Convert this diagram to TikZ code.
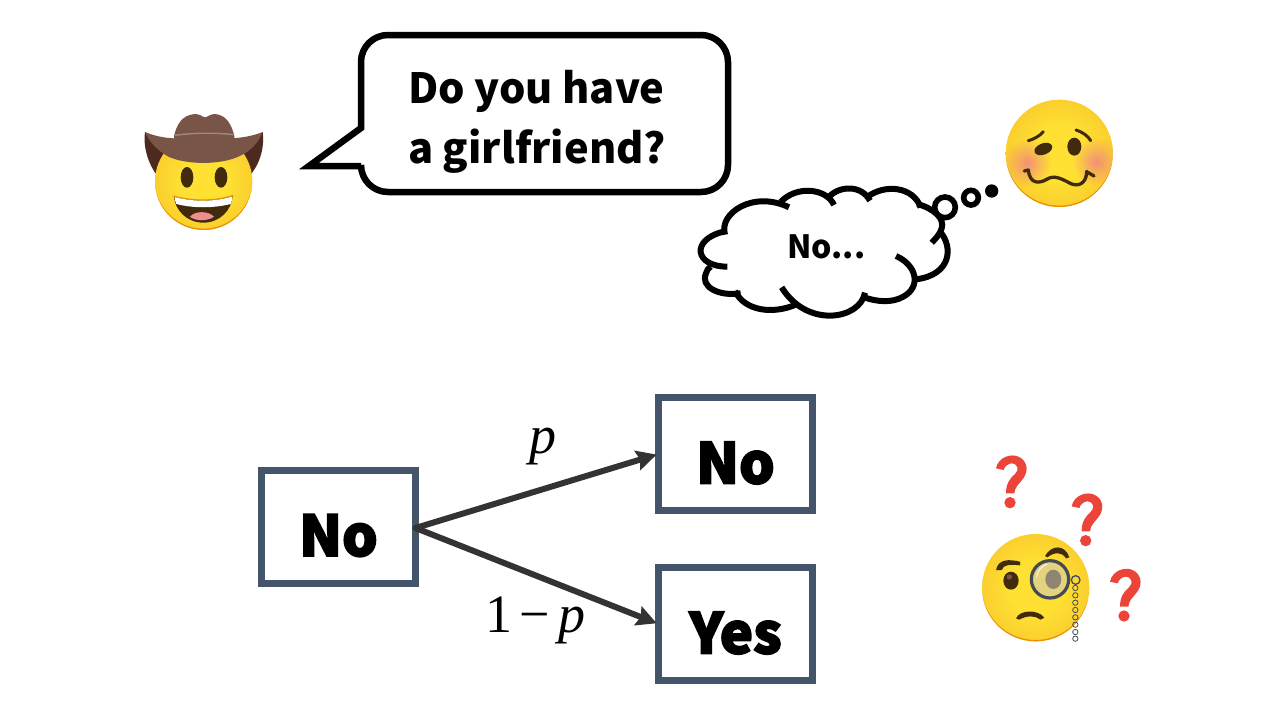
\documentclass[tikz,border=0pt]{standalone}
\usepackage{fontspec}
\setmainfont{Liberation Serif}
\newfontfamily\cjk{Noto Sans CJK SC}
\newfontfamily\cjkblack{Noto Sans CJK SC}[BoldFeatures={FakeBold=3}]
\usetikzlibrary{arrows.meta,fadings}
\tikzfading[name=softcheek,inner color=transparent!25,outer color=transparent!100]
\definecolor{slate}{HTML}{44546A}
\definecolor{arrowgray}{HTML}{333333}
\definecolor{faceDark}{HTML}{422B0D}
\definecolor{faceRim}{HTML}{EB8F00}
\definecolor{faceMid}{HTML}{F8C22A}
\definecolor{faceEdge}{HTML}{F1A71F}
\definecolor{faceCore}{HTML}{FEE133}
\definecolor{hatBrown}{HTML}{795548}
\definecolor{hatDark}{HTML}{4E2A1E}
\definecolor{hatBand}{HTML}{A1887F}
\definecolor{qred}{HTML}{EC4438}
\definecolor{tonguePink}{HTML}{EE8E8E}
\definecolor{lensFill}{HTML}{E3D27E}
\definecolor{lensEye}{HTML}{8F8672}
\definecolor{lensRim}{HTML}{454B55}
\definecolor{cheekPink}{HTML}{F0788C}
\pgfdeclareradialshading{facegrad}{\pgfpoint{0bp}{0bp}}{%
  color(0bp)=(faceCore); color(12bp)=(faceCore); color(34bp)=(faceMid); color(50bp)=(faceEdge)}
\newcommand{\rimcrescent}[3]{%
  \begin{scope}
    \clip (#1,#2) circle[radius=#3];
    \fill[faceRim,even odd rule] (#1,#2) circle[radius=#3+1] (#1,#2-5) circle[radius=#3+1];
  \end{scope}}
\tikzset{
  statebox/.style={draw=slate,line width=7pt,fill=white,inner sep=0pt,outer sep=0pt,
    minimum width=154pt,minimum height=113pt,text depth=0pt,
    font=\cjkblack\bfseries\fontsize{56}{56}\selectfont},
  flow/.style={draw=arrowgray,line width=6pt,line cap=round,shorten >=2pt,
    -{Stealth[length=20pt,width=20pt,inset=3pt]}},
  edgetext/.style={inner sep=0pt,anchor=base,font=\fontsize{54}{54}\selectfont},
  cloudline/.style={line width=6pt,line cap=butt},
  zoomed/.style={x=0.33333pt,y=-0.33333pt},
  facefill/.style={shading=facegrad},
}
\begin{document}
\begin{tikzpicture}[x=1pt,y=-1pt]
\path[use as bounding box,fill=white] (0,0) rectangle (1280,720);

% speech bubble
\draw[line width=6.5pt,fill=white,line join=miter,miter limit=10]
  (361,128) [rounded corners=27pt] -- (361,35) -- (728,35) -- (728,192) -- (361,192)
  [sharp corners] -- (361,166) -- (309,166) -- cycle;
\node[inner sep=0pt,anchor=base west,align=left,font=\cjk\bfseries\fontsize{41.6}{60}\selectfont]
  (question) at (408,163) {Do you have\\a girlfriend?};

% cowboy
\begin{scope}[shift={(130,100)},zoomed]
  \fill[hatDark] (45,96) .. controls (38,150) and (60,200) .. (85,232) -- (130,150) -- cycle;
  \fill[hatDark] (398,96) .. controls (405,150) and (385,200) .. (355,232) -- (310,150) -- cycle;
  \shade[facefill] (221,244) circle[radius=146];
  \rimcrescent{221}{244}{146}
  \fill[hatBrown] (132,125) -- (132,108) .. controls (140,75) and (155,45) .. (195,42)
    .. controls (212,42) and (218,52) .. (225,52)
    .. controls (232,52) and (240,42) .. (255,42)
    .. controls (290,45) and (305,75) .. (313,108) -- (313,125) -- cycle;
  \fill[hatBrown] (45,96) .. controls (90,115) and (130,118) .. (220,115)
    .. controls (300,118) and (350,115) .. (398,96)
    .. controls (385,130) and (360,155) .. (325,170)
    .. controls (270,195) and (170,195) .. (115,170)
    .. controls (80,150) and (58,125) .. (45,96) -- cycle;
  \draw[hatBand,line width=1.4pt] (135,106) .. controls (190,98) and (260,98) .. (310,104);
  \fill[faceDark] (171,232) ellipse[x radius=19,y radius=31];
  \fill[faceDark] (273,232) ellipse[x radius=19,y radius=31];
  \fill[faceDark] (132,290) .. controls (190,306) and (255,306) .. (308,288)
    .. controls (305,330) and (270,368) .. (220,368)
    .. controls (170,368) and (135,330) .. (132,290) -- cycle;
  \fill[white] (134,291) .. controls (190,306) and (255,306) .. (307,289)
    .. controls (307,298) and (305,306) .. (302,312)
    .. controls (250,325) and (190,325) .. (139,312)
    .. controls (136,305) and (134,298) .. (134,291) -- cycle;
  \draw[faceRim,line width=1pt] (130,288) .. controls (190,304) and (255,304) .. (310,286);
  \fill[tonguePink] (180,350) .. controls (195,332) and (235,332) .. (252,350)
    .. controls (235,364) and (195,364) .. (180,350) -- cycle;
\end{scope}

% thought cloud
\begin{scope}[shift={(690,90)},zoomed]
  \fill[white] (100,430) .. controls (95,360) and (190,310) .. (290,345)
    .. controls (340,285) and (410,290) .. (430,325)
    .. controls (470,280) and (520,290) .. (538,320)
    .. controls (600,270) and (680,300) .. (690,350)
    .. controls (740,360) and (770,410) .. (755,430)
    .. controls (790,480) and (770,560) .. (680,568)
    .. controls (680,620) and (600,640) .. (525,620)
    .. controls (480,690) and (370,710) .. (310,645)
    .. controls (240,680) and (160,660) .. (140,612)
    .. controls (50,620) and (20,560) .. (60,530)
    .. controls (10,510) and (20,430) .. (100,425) -- cycle;
  \draw[cloudline] (105,434) .. controls (85,370) and (190,300) .. (297,352);
  \draw[cloudline] (272,336) .. controls (320,285) and (410,295) .. (432,345);
  \draw[cloudline] (415,322) .. controls (450,285) and (515,285) .. (540,332);
  \draw[cloudline] (530,322) .. controls (585,280) and (670,290) .. (692,352);
  \draw[cloudline] (682,342) .. controls (730,355) and (765,385) .. (755,415) .. controls (750,432) and (738,445) .. (725,458);
  \draw[cloudline] (750,425) .. controls (790,470) and (785,555) .. (678,568);
  \draw[cloudline] (618,498) .. controls (680,525) and (695,590) .. (640,620) .. controls (605,640) and (560,635) .. (522,622);
  \draw[cloudline] (525,608) .. controls (510,690) and (350,715) .. (275,592);
  \draw[cloudline] (315,645) .. controls (250,672) and (165,665) .. (135,603);
  \draw[cloudline] (152,610) .. controls (85,620) and (30,590) .. (48,550) .. controls (50,540) and (55,535) .. (62,530);
  \draw[cloudline] (112,530) .. controls (15,530) and (0,450) .. (100,425);
  \draw[line width=5.6pt,fill=white] (765,352) circle[radius=31];
  \draw[line width=5.6pt,fill=white] (843,323) circle[radius=22];
  \fill[black] (905,303) circle[radius=20];
\end{scope}
\node[inner sep=0pt,anchor=base west,font=\cjk\bfseries\fontsize{32}{32}\selectfont]
  (answer) at (787,258) {No...};

% woozy
\begin{scope}[shift={(690,90)},zoomed]
  \shade[facefill] (1108,190) circle[radius=161];
  \rimcrescent{1108}{190}{161}
  \begin{scope}
    \clip (1108,190) circle[radius=161];
    \fill[cheekPink,path fading=softcheek] (1012,218) circle[radius=72];
    \fill[cheekPink,path fading=softcheek] (1218,215) circle[radius=72];
  \end{scope}
  \fill[faceDark,rotate around={20:(1060,177)}] (1060,177) ellipse[x radius=28,y radius=17];
  \fill[faceDark] (1153,170) ellipse[x radius=21,y radius=27];
  \draw[faceDark,line width=3pt,line cap=round] (1015,152) .. controls (1030,148) and (1050,138) .. (1060,125);
  \draw[faceDark,line width=3pt,line cap=round] (1158,120) .. controls (1175,125) and (1195,138) .. (1202,152);
  \draw[faceDark,line width=3.3pt,line cap=round,line join=round] (1003,243) -- (1015,240)
    .. controls (1020,285) and (1050,280) .. (1070,268)
    .. controls (1095,252) and (1120,270) .. (1145,282)
    .. controls (1175,292) and (1190,270) .. (1190,245) -- (1212,258);
\end{scope}

% monocle face
\begin{scope}[shift={(970,450)},zoomed]
  \shade[facefill] (197,413) circle[radius=161];
  \rimcrescent{197}{413}{161}
  \fill[faceDark] (123,392) ellipse[x radius=23,y radius=27];
  \fill[hatBrown] (118,381) circle[radius=8];
  \fill[faceDark,line join=round] (78,360) .. controls (85,325) and (120,328) .. (150,335)
    -- (150,346) .. controls (120,343) and (100,343) .. (95,360) -- cycle;
  \fill[faceDark] (225,318) .. controls (245,283) and (285,283) .. (298,322)
    -- (288,325) .. controls (275,305) and (255,305) .. (232,322) -- cycle;
  \fill[faceDark] (138,505) .. controls (150,478) and (205,478) .. (223,503)
    -- (212,509) .. controls (195,496) and (170,496) .. (148,509) -- cycle;
  \draw[draw=lensRim,line width=3.2pt,fill=lensFill] (240,388) circle[radius=56];
  \fill[lensEye] (250,388) ellipse[x radius=24,y radius=29];
  \draw[white,line width=.8pt] (200,382) .. controls (202,362) and (215,348) .. (232,342);
  \draw[lensRim,line width=1.3pt] (317,390) circle[radius=13];
  \foreach \yy in {414,436,458,480,502,524,546,566}
    \draw[lensRim,line width=.8pt] (316,\yy) circle[radius=8];
  \foreach \dx/\dy in {0/0,227/114,342/340} {
    \begin{scope}[shift={(\dx,\dy)}]
      \fill[qred] (78,55) .. controls (85,20) and (125,10) .. (145,20)
        .. controls (170,30) and (178,60) .. (160,85)
        .. controls (145,105) and (135,110) .. (133,130) -- (108,130)
        .. controls (108,100) and (120,85) .. (135,72)
        .. controls (148,60) and (145,42) .. (125,40)
        .. controls (115,40) and (103,50) .. (101,60) -- cycle;
      \fill[qred] (120,158) circle[radius=17];
    \end{scope}
  }
\end{scope}

% decision tree
\node[statebox,text height=59pt] (root) at (338.5,526.5) {No};
\node[statebox,text height=59pt] (upper) at (735.5,454) {No};
\node[statebox,text height=59pt] (lower) at (735.5,624) {Yes};
\draw[flow] ([yshift=-1.5pt]root.east) -- (upper.west);
\draw[flow] ([yshift=-1.5pt]root.east) -- (lower.west);
\node[edgetext] (plabel) at (543,453) {\itshape p};
\node[edgetext] (qlabel) at (535.5,632) {1\hspace{7pt}\char"2212\hspace{9pt}\itshape p};
\end{tikzpicture}
\end{document}
